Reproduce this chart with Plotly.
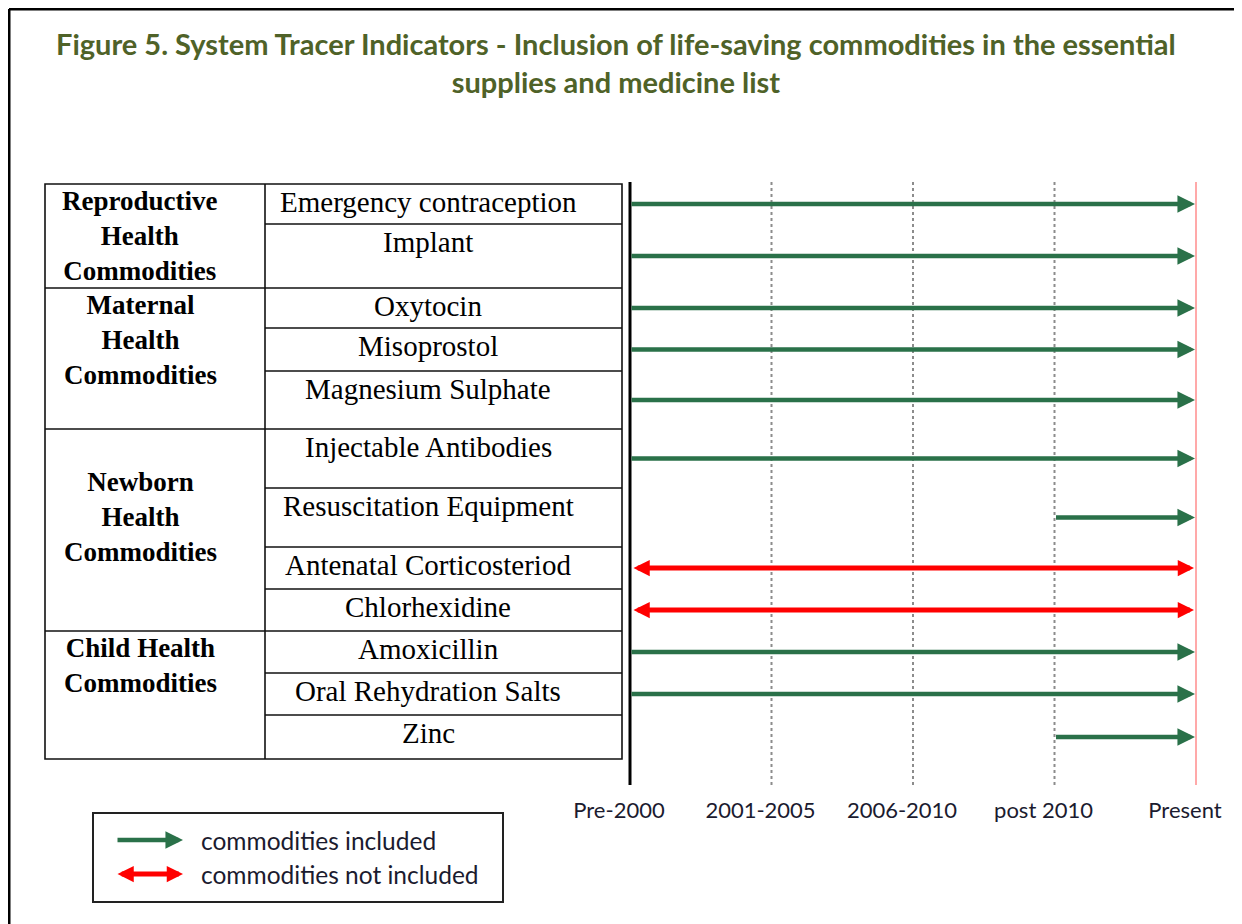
"""
Figure 5: System tracer indicators - inclusion of life-saving commodities
in the essential supplies and medicine list.
"""

import plotly.graph_objects as go

# ---- data -----------------------------------------------------------------
periods = ["Pre-2000", "2001-2005", "2006-2010", "post 2010", "Present"]

groups = [
    "Reproductive<br>Health<br>Commodities",
    "Maternal<br>Health<br>Commodities",
    "Newborn<br>Health<br>Commodities",
    "Child Health<br>Commodities",
]
group_sizes = [2, 3, 4, 3]

commodities = [
    "Emergency contraception",
    "Implant",
    "Oxytocin",
    "Misoprostol",
    "Magnesium Sulphate",
    "Injectable Antibodies",
    "Resuscitation Equipment",
    "Antenatal Corticosteriod",
    "Chlorhexidine",
    "Amoxicillin",
    "Oral Rehydration Salts",
    "Zinc",
]
# period from which the commodity is on the list (None = not included)
included_from = [
    "Pre-2000", "Pre-2000",
    "Pre-2000", "Pre-2000", "Pre-2000",
    "Pre-2000", "post 2010", None, None,
    "Pre-2000", "Pre-2000", "post 2010",
]

legend_labels = ["commodities included", "commodities not included"]
title_text = ("Figure 5. System Tracer Indicators - Inclusion of life-saving "
              "commodities in the essential<br>supplies and medicine list")

# ---- layout constants (page pixels) ----------------------------------------
W, H = 1242, 924
PAGE_MARGIN = 8  # the html body margin shifts the figure by this much
TABLE_LEFT, TABLE_MID, TABLE_RIGHT, TABLE_TOP = 45, 265, 622, 184
ROW_HEIGHTS = [40, 64, 40, 43, 58, 59, 59, 42, 42, 42, 42, 44]
GROUP_LABEL_SHIFT = [0, 0, 36, 0]
X_FIRST, X_LAST, X_PAD = 630, 1196, 12
LINE_TOP, LINE_BOTTOM = 182, 785
FRAME = 9

GREEN = "#2A7149"
RED = "#FF0000"
TITLE_GREEN = "#4F6228"
SERIF = "Liberation Serif"
SANS = "Lato"


def px(x):
    return (x - PAGE_MARGIN) / W


def py(y):
    return 1 - (y - PAGE_MARGIN) / H


row_edges = [TABLE_TOP]
for h in ROW_HEIGHTS:
    row_edges.append(row_edges[-1] + h)
row_centers = [(a + b) / 2 for a, b in zip(row_edges[:-1], row_edges[1:])]

group_edges = [0]
for n in group_sizes:
    group_edges.append(group_edges[-1] + n)

unit = (X_LAST - X_FIRST) / (len(periods) - 1)
x_range = [-X_PAD / unit, len(periods) - 1 + X_PAD / unit]

fig = go.Figure()
# invisible trace so the axes exist
fig.add_trace(go.Scatter(x=[0, len(periods) - 1], y=[row_centers[0], row_centers[-1]],
                         mode="markers", marker=dict(opacity=0), hoverinfo="skip",
                         showlegend=False))

shapes = []
annotations = []

# outer frame (top and left edges of the page box)
shapes.append(dict(type="line", xref="paper", yref="paper",
                   x0=px(FRAME), x1=px(FRAME), y0=0, y1=py(FRAME),
                   line=dict(color="black", width=3)))
shapes.append(dict(type="line", xref="paper", yref="paper",
                   x0=px(FRAME), x1=1, y0=py(FRAME), y1=py(FRAME),
                   line=dict(color="black", width=3)))

# table
tline = dict(color="#111111", width=1.6)
shapes.append(dict(type="rect", xref="paper", yref="paper",
                   x0=px(TABLE_LEFT), x1=px(TABLE_RIGHT),
                   y0=py(row_edges[0]), y1=py(row_edges[-1]), line=tline))
shapes.append(dict(type="line", xref="paper", yref="paper",
                   x0=px(TABLE_MID), x1=px(TABLE_MID),
                   y0=py(row_edges[0]), y1=py(row_edges[-1]), line=tline))
for i in range(1, len(commodities)):
    left = TABLE_LEFT if i in group_edges else TABLE_MID
    shapes.append(dict(type="line", xref="paper", yref="paper",
                       x0=px(left), x1=px(TABLE_RIGHT),
                       y0=py(row_edges[i]), y1=py(row_edges[i]), line=tline))

for name, y0 in zip(commodities, row_edges[:-1]):
    annotations.append(dict(xref="paper", yref="y", x=px(428), y=y0,
                            xanchor="center", yanchor="top", text=name,
                            showarrow=False,
                            font=dict(family=SERIF, size=29, color="black")))

for g, (label, start) in enumerate(zip(groups, group_edges[:-1])):
    annotations.append(dict(xref="paper", yref="y", x=px(140),
                            y=row_edges[start] + GROUP_LABEL_SHIFT[g],
                            xanchor="center", yanchor="top", align="center",
                            text="<b>" + label + "</b>", showarrow=False,
                            font=dict(family=SERIF, size=27, color="black")))

# timeline verticals
for i, p in enumerate(periods):
    if i == 0:
        ln = dict(color="black", width=3)
    elif i == len(periods) - 1:
        ln = dict(color="#FF8C8C", width=1.5)
    else:
        ln = dict(color="#8C8C8C", width=2, dash="dot")
    shapes.append(dict(type="line", xref="x", yref="paper", x0=i, x1=i,
                       y0=py(LINE_BOTTOM), y1=py(LINE_TOP), line=ln))

# arrows
last = len(periods) - 1
for name, start, yc in zip(commodities, included_from, row_centers):
    if start is None:
        annotations.append(dict(xref="x", yref="y", axref="x", ayref="y",
                                x=last, y=yc, ax=0, ay=yc, text="",
                                showarrow=True, arrowhead=2, arrowside="end+start",
                                arrowsize=0.65, arrowwidth=5, arrowcolor=RED,
                                standoff=2, startstandoff=2))
    else:
        annotations.append(dict(xref="x", yref="y", axref="x", ayref="y",
                                x=last, y=yc, ax=periods.index(start), ay=yc, text="",
                                showarrow=True, arrowhead=2, arrowsize=0.78,
                                arrowwidth=4.5, arrowcolor=GREEN, standoff=1))

# legend box
shapes.append(dict(type="rect", xref="paper", yref="paper",
                   x0=px(93), x1=px(503), y0=py(813), y1=py(902),
                   line=dict(color="#222222", width=2)))
legend_styles = [
    dict(arrowcolor=GREEN, arrowwidth=4.5, arrowsize=0.78, arrowside="end"),
    dict(arrowcolor=RED, arrowwidth=5, arrowsize=0.65, arrowside="end+start"),
]
for label, style, yy in zip(legend_labels, legend_styles, [840, 874]):
    annotations.append(dict(xref="paper", yref="paper", axref="pixel", ayref="pixel",
                            x=px(183), y=py(yy), ax=-(183 - 116), ay=0, text="",
                            showarrow=True, arrowhead=2, **style))
    annotations.append(dict(xref="paper", yref="paper", x=px(199), y=py(yy),
                            xanchor="left", yanchor="middle", text=label,
                            showarrow=False,
                            font=dict(family=SANS, size=24.5, color="#1B1B2F")))

# title
annotations.append(dict(xref="paper", yref="paper", x=px(616), y=py(24),
                        xanchor="center", yanchor="top", align="center",
                        text="<b>" + title_text + "</b>", showarrow=False,
                        font=dict(family=SANS, size=29, color=TITLE_GREEN)))

fig.update_layout(
    width=W,
    height=H,
    margin=dict(l=0, r=0, t=0, b=0, autoexpand=False),
    paper_bgcolor="white",
    plot_bgcolor="rgba(0,0,0,0)",
    showlegend=False,
    shapes=shapes,
    annotations=annotations,
    xaxis=dict(
        domain=[px(X_FIRST - X_PAD), px(X_LAST + X_PAD)],
        range=x_range,
        tickmode="array",
        tickvals=list(range(len(periods))),
        ticktext=periods,
        showgrid=False,
        zeroline=False,
        showline=False,
        ticks="",
        anchor="free",
        position=py(LINE_BOTTOM),
        automargin=False,
        ticklabelstandoff=10,
        ticklabelshift=-11,
        tickfont=dict(family=SANS, size=22, color="#1B1B2F"),
        fixedrange=True,
    ),
    yaxis=dict(
        domain=[0, 1],
        range=[H + PAGE_MARGIN, PAGE_MARGIN],
        visible=False,
        automargin=False,
        fixedrange=True,
    ),
)

fig.write_html("out.html")
